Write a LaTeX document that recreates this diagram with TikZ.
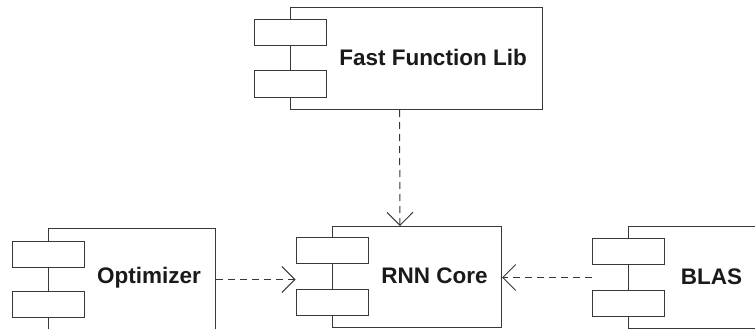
\documentclass[tikz,border=0pt]{standalone}
\usepackage{fontspec}
\setmainfont{Liberation Sans}
\usetikzlibrary{arrows.meta,calc}
\definecolor{edgegray}{HTML}{383838}
\definecolor{txt}{HTML}{1A1A1A}
\tikzset{
  comp/.style={draw=edgegray, line width=1pt, anchor=north west, inner sep=0pt, fill=white},
  port/.style={draw=edgegray, line width=1pt, fill=white, minimum width=72pt, minimum height=26pt, inner sep=0pt},
  lbl/.style={text=txt, font=\bfseries\fontsize{22.5}{26}\selectfont, inner sep=0pt},
  dep/.style={draw=edgegray, line width=1pt, dash pattern=on 7pt off 5pt,
    -{Straight Barb[length=13pt,width=26pt,line width=1pt]}}
}
\begin{document}
\begin{tikzpicture}[x=1pt,y=-1pt]
\useasboundingbox (0,0) rectangle (755,329);
% Fast Function Lib
\node[comp, minimum width=252pt, minimum height=102pt] (ffl) at (290,7) {};
\node[port] (fflA) at (290,33) {};
\node[port] (fflB) at (290,84) {};
\node[lbl] (fflT) at (433,57.5) {Fast Function Lib};
% Optimizer
\node[comp, minimum width=167pt, minimum height=102pt] (opt) at (48,228) {};
\node[port] (optA) at (48,254) {};
\node[port] (optB) at (48,304.5) {};
\node[lbl] (optT) at (149,278) {Optimizer};
% RNN Core
\node[comp, minimum width=169pt, minimum height=101pt] (rnn) at (332,226) {};
\node[port] (rnnA) at (332,250.5) {};
\node[port] (rnnB) at (332,302) {};
\node[lbl] (rnnT) at (434.5,275.5) {RNN Core};
% BLAS
\node[comp, minimum width=131pt, minimum height=102pt] (blas) at (628,226) {};
\node[port] (blasA) at (628,251) {};
\node[port] (blasB) at (628,303.5) {};
\node[lbl] (blasT) at (711.5,276.5) {BLAS};
% connectors
\draw[dep] ([xshift=-17pt]ffl.south) -- ([xshift=-17pt]rnn.north);
\draw[dep] (opt.east) -- (opt.east -| rnnA.west);
\draw[dep] (blas.west -| blasA.west) -- (blas.west -| rnn.east);
\end{tikzpicture}
\end{document}
